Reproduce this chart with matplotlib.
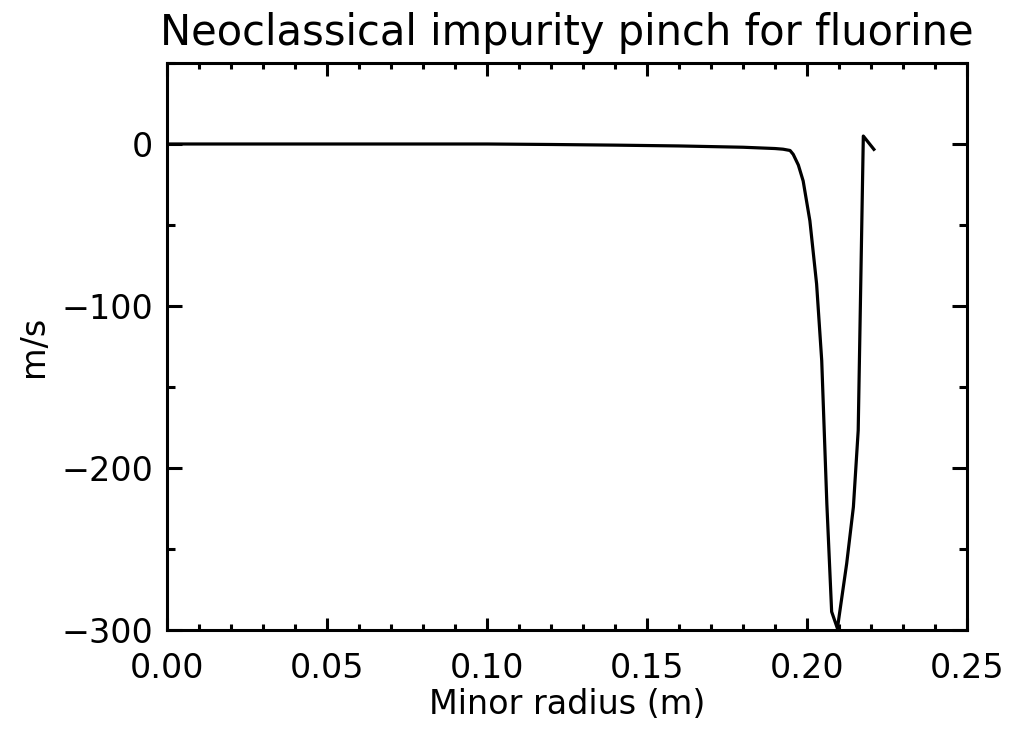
import matplotlib
matplotlib.use("Agg")
import matplotlib.pyplot as plt
from matplotlib.ticker import MultipleLocator, FormatStrFormatter, FuncFormatter

radius = [0.0, 0.02, 0.04, 0.06, 0.08, 0.10, 0.12, 0.14, 0.16, 0.17, 0.18,
          0.185, 0.19, 0.1925, 0.1947, 0.1957, 0.1973, 0.1988, 0.2009, 0.2030,
          0.2046, 0.2062, 0.2077, 0.2095, 0.2124, 0.2145, 0.2160, 0.2176, 0.2209]
pinch = [0.0, 0.0, 0.0, 0.0, 0.0, 0.0, -0.3, -0.7, -1.2, -1.6, -2.0,
         -2.4, -2.8, -3.2, -4.0, -6.4, -13.0, -22.8, -47.4, -86.4,
         -133.7, -222.0, -288.7, -299.0, -259.0, -224.0, -176.8, 4.9, -3.3]

title = "Neoclassical impurity pinch for fluorine"
xlabel = "Minor radius (m)"
ylabel = "m/s"

plt.rcParams['font.family'] = ['DejaVu Sans']
fig = plt.figure(figsize=(10.11, 7.32), dpi=100)
ax = fig.add_axes([167/1011, 1 - 630/732, 800/1011, 567/732])
ax.plot(radius, pinch, color='black', lw=2.3)
ax.set_xlim(0, 0.25)
ax.set_ylim(-300, 50)
ax.xaxis.set_major_locator(MultipleLocator(0.05))
ax.xaxis.set_minor_locator(MultipleLocator(0.01))
ax.yaxis.set_major_locator(MultipleLocator(100))
ax.yaxis.set_minor_locator(MultipleLocator(50))
ax.xaxis.set_major_formatter(FormatStrFormatter('%.2f'))
ax.yaxis.set_major_formatter(FuncFormatter(
    lambda v, p: ('\u2212%d' % abs(v) if v < 0 else '%d' % v) if -301 < v <= 0 else ''))
for s in ax.spines.values():
    s.set_linewidth(2.2)
ax.tick_params(axis='both', which='both', direction='in', top=True, right=True,
               labelsize=24, width=2.2)
ax.tick_params(axis='x', which='both', pad=16)
ax.tick_params(axis='y', which='both', pad=10)
ax.tick_params(axis='x', which='major', length=9)
ax.tick_params(axis='x', which='minor', length=4.5)
ax.tick_params(axis='y', which='major', length=11)
ax.tick_params(axis='y', which='minor', length=5.5)
ax.set_title(title, fontsize=30, pad=13)
ax.set_xlabel(xlabel, fontsize=24, labelpad=2)
ax.set_ylabel(ylabel, fontsize=24, labelpad=8)
fig.savefig("out.png", dpi=100)
